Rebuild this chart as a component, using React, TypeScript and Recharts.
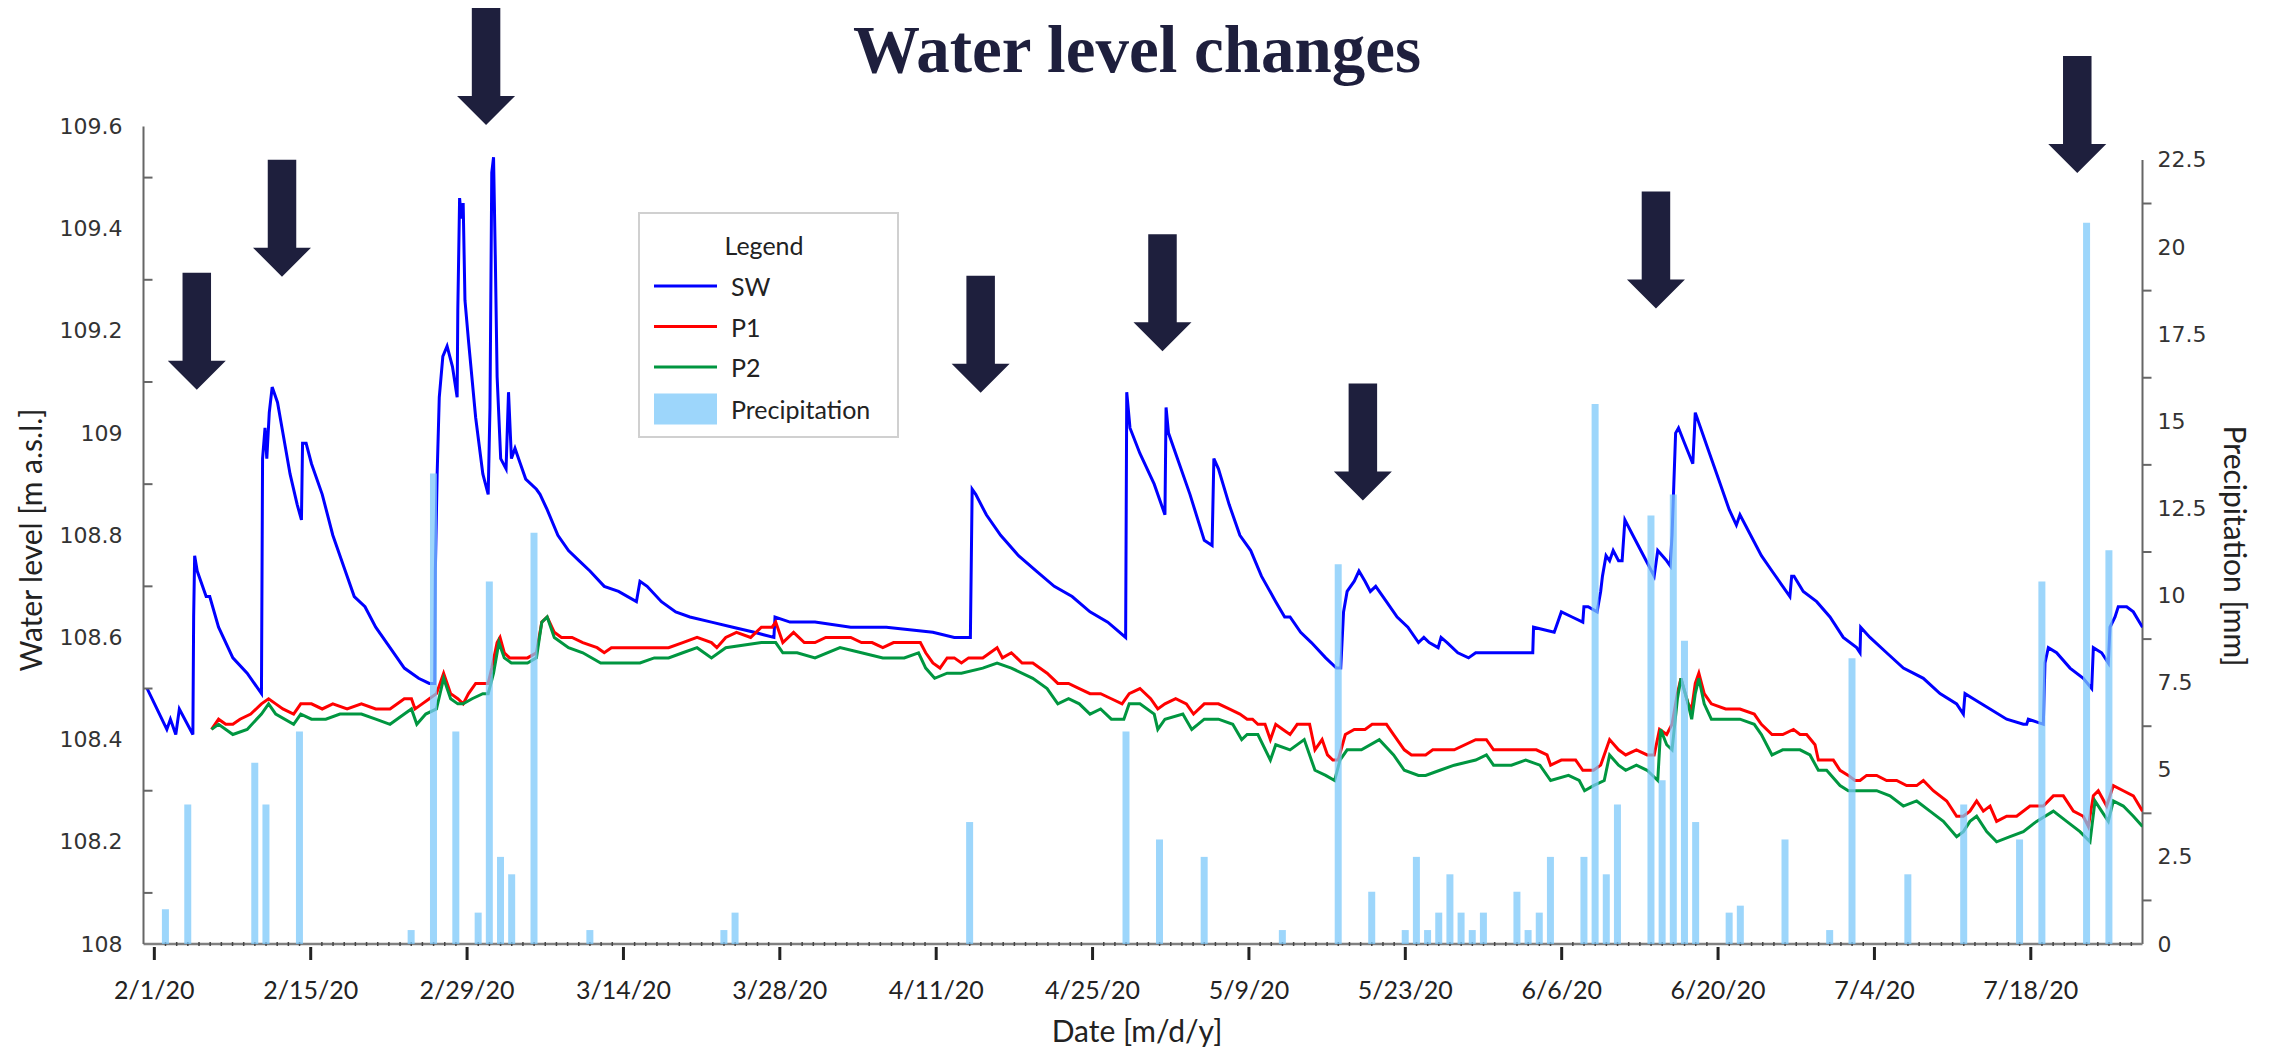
import { ComposedChart, Line, Bar, XAxis, YAxis, ReferenceLine, ReferenceDot } from "recharts"

// day 0 = 2/1/20
const SW: [number, number][] = [
  [-0.64, 108.5], [1.12, 108.42], [1.44, 108.44], [1.92, 108.41], [2.24, 108.46], [3.45, 108.41], [3.52, 108.64], [3.61, 108.76],
  [3.84, 108.73], [4.64, 108.68], [4.96, 108.68], [5.75, 108.62], [7.03, 108.56], [8.31, 108.53], [9.59, 108.49], [9.69, 108.95],
  [9.91, 109.01], [10.07, 108.95], [10.29, 109.04], [10.55, 109.09], [11.03, 109.06], [11.51, 109.0], [12.15, 108.92], [12.79, 108.86],
  [13.17, 108.83], [13.27, 108.98], [13.59, 108.98], [14.07, 108.94], [15.03, 108.88], [15.98, 108.8], [16.94, 108.74], [17.9, 108.68],
  [18.86, 108.66], [19.82, 108.62], [21.1, 108.58], [22.38, 108.54], [23.66, 108.52], [24.62, 108.51], [25.1, 108.51], [25.16, 108.73],
  [25.32, 108.92], [25.51, 109.07], [25.83, 109.15], [26.21, 109.17], [26.69, 109.13], [27.11, 109.07], [27.17, 109.24], [27.33, 109.46],
  [27.49, 109.42], [27.65, 109.45], [27.81, 109.26], [28.13, 109.18], [28.77, 109.03], [29.41, 108.92], [29.89, 108.88], [30.05, 109.05],
  [30.21, 109.51], [30.37, 109.54], [30.53, 109.34], [30.69, 109.11], [31.01, 108.95], [31.49, 108.93], [31.71, 109.08], [31.97, 108.95],
  [32.29, 108.97], [32.77, 108.94], [33.25, 108.91], [34.21, 108.89], [34.53, 108.88], [35.17, 108.85], [36.13, 108.8], [37.08, 108.77],
  [38.04, 108.75], [39.0, 108.73], [40.28, 108.7], [41.56, 108.69], [43.16, 108.67], [43.48, 108.71], [44.12, 108.7], [45.4, 108.67],
  [46.68, 108.65], [47.95, 108.64], [49.88, 108.63], [51.8, 108.62], [53.71, 108.61], [55.47, 108.6], [55.57, 108.64], [56.91, 108.63],
  [59.15, 108.63], [62.35, 108.62], [65.54, 108.62], [69.7, 108.61], [71.62, 108.6], [73.06, 108.6], [73.22, 108.89], [73.54, 108.88],
  [74.49, 108.84], [75.77, 108.8], [77.37, 108.76], [78.97, 108.73], [80.57, 108.7], [82.17, 108.68], [83.77, 108.65], [85.36, 108.63],
  [86.96, 108.6], [87.06, 109.08], [87.35, 109.01], [88.24, 108.96], [89.52, 108.9], [90.48, 108.84], [90.58, 109.05], [90.8, 109.0],
  [91.76, 108.94], [92.72, 108.88], [94.0, 108.79], [94.7, 108.78], [94.86, 108.95], [95.27, 108.93], [96.23, 108.86], [97.19, 108.8],
  [98.16, 108.77], [99.12, 108.72], [100.4, 108.67], [101.2, 108.64], [101.68, 108.64], [102.63, 108.61], [103.59, 108.59], [104.87, 108.56],
  [105.83, 108.54], [106.22, 108.54], [106.47, 108.65], [106.79, 108.69], [107.43, 108.71], [107.85, 108.73], [108.39, 108.71], [108.87, 108.69],
  [109.35, 108.7], [110.31, 108.67], [111.27, 108.64], [112.23, 108.62], [113.18, 108.59], [113.66, 108.6], [114.14, 108.59], [114.94, 108.58],
  [115.2, 108.6], [115.74, 108.59], [116.7, 108.57], [117.66, 108.56], [118.3, 108.57], [120.86, 108.57], [123.41, 108.57], [123.48, 108.62],
  [125.33, 108.61], [125.49, 108.62], [125.97, 108.65], [126.93, 108.64], [127.89, 108.63], [127.99, 108.66], [128.37, 108.66], [129.17, 108.65],
  [129.49, 108.69], [129.65, 108.72], [129.97, 108.76], [130.29, 108.75], [130.61, 108.77], [131.09, 108.75], [131.41, 108.75], [131.66, 108.83],
  [132.37, 108.8], [133.33, 108.76], [134.28, 108.72], [134.6, 108.77], [135.4, 108.75], [135.72, 108.74], [135.88, 108.8], [136.04, 108.9],
  [136.2, 109.0], [136.46, 109.01], [137.0, 108.98], [137.74, 108.94], [137.96, 109.04], [138.44, 109.01], [139.08, 108.97], [140.04, 108.91],
  [141.0, 108.85], [141.64, 108.82], [141.96, 108.84], [142.92, 108.8], [143.88, 108.76], [144.83, 108.73], [145.79, 108.7], [146.43, 108.68],
  [146.59, 108.72], [146.8, 108.72], [147.63, 108.69], [148.83, 108.67], [150.02, 108.64], [151.21, 108.6], [152.41, 108.58], [152.71, 108.57],
  [152.77, 108.62], [153.6, 108.6], [155.09, 108.57], [156.59, 108.54], [157.48, 108.53], [158.38, 108.52], [159.87, 108.49], [161.36, 108.47],
  [161.96, 108.45], [162.11, 108.49], [162.85, 108.48], [164.35, 108.46], [165.84, 108.44], [167.33, 108.43], [167.63, 108.43], [167.78, 108.44],
  [169.12, 108.43], [169.27, 108.55], [169.57, 108.58], [170.31, 108.57], [171.51, 108.54], [172.7, 108.52], [173.45, 108.5], [173.6, 108.58],
  [174.34, 108.57], [174.94, 108.55], [175.09, 108.62], [175.54, 108.64], [175.83, 108.66], [176.58, 108.66], [177.18, 108.65], [178.0, 108.62],
]

const P1: [number, number][] = [
  [5.12, 108.42], [5.75, 108.44], [6.39, 108.43], [7.03, 108.43], [7.67, 108.44], [8.63, 108.45], [9.59, 108.47], [10.23, 108.48],
  [10.87, 108.47], [11.51, 108.46], [12.47, 108.45], [13.11, 108.47], [14.07, 108.47], [15.03, 108.46], [15.98, 108.47], [17.26, 108.46],
  [18.54, 108.47], [19.82, 108.46], [21.1, 108.46], [22.38, 108.48], [23.02, 108.48], [23.34, 108.46], [23.98, 108.47], [24.62, 108.48],
  [25.26, 108.49], [25.9, 108.53], [26.53, 108.49], [27.17, 108.48], [27.65, 108.47], [28.13, 108.49], [28.77, 108.51], [29.41, 108.51],
  [29.89, 108.51], [30.21, 108.54], [30.69, 108.59], [30.95, 108.6], [31.33, 108.57], [31.81, 108.56], [32.61, 108.56], [33.41, 108.56],
  [34.21, 108.57], [34.69, 108.63], [35.17, 108.64], [35.81, 108.61], [36.45, 108.6], [37.4, 108.6], [38.36, 108.59], [39.64, 108.58],
  [40.28, 108.57], [40.92, 108.58], [42.2, 108.58], [43.48, 108.58], [44.76, 108.58], [46.04, 108.58], [47.31, 108.59], [48.59, 108.6],
  [49.88, 108.59], [50.36, 108.58], [51.16, 108.6], [52.12, 108.61], [53.39, 108.6], [54.35, 108.62], [55.31, 108.62], [55.63, 108.63],
  [56.27, 108.59], [57.23, 108.61], [58.19, 108.59], [59.15, 108.59], [60.11, 108.6], [61.39, 108.6], [62.35, 108.6], [63.31, 108.59],
  [64.26, 108.59], [65.22, 108.58], [66.18, 108.59], [67.14, 108.59], [68.58, 108.59], [69.06, 108.57], [69.7, 108.55], [70.34, 108.54],
  [70.98, 108.56], [71.62, 108.56], [72.26, 108.55], [72.9, 108.56], [74.17, 108.56], [75.45, 108.58], [75.93, 108.56], [76.73, 108.57],
  [77.69, 108.55], [78.65, 108.55], [79.93, 108.53], [80.89, 108.51], [81.85, 108.51], [82.81, 108.5], [83.77, 108.49], [84.72, 108.49],
  [85.68, 108.48], [86.64, 108.47], [87.28, 108.49], [88.24, 108.5], [89.2, 108.48], [89.84, 108.46], [90.48, 108.47], [91.44, 108.48],
  [92.4, 108.47], [93.04, 108.45], [94.0, 108.47], [95.27, 108.47], [96.23, 108.46], [97.19, 108.45], [97.84, 108.44], [98.32, 108.44],
  [98.8, 108.43], [99.44, 108.43], [99.92, 108.4], [100.4, 108.43], [101.04, 108.42], [101.68, 108.41], [102.32, 108.43], [102.95, 108.43],
  [103.43, 108.43], [103.91, 108.38], [104.55, 108.4], [105.03, 108.37], [105.51, 108.36], [105.99, 108.36], [106.63, 108.41], [107.43, 108.42],
  [108.39, 108.42], [109.03, 108.43], [109.83, 108.43], [110.31, 108.43], [110.95, 108.41], [111.91, 108.38], [112.55, 108.37], [113.82, 108.37],
  [114.46, 108.38], [116.38, 108.38], [118.3, 108.4], [119.26, 108.4], [119.9, 108.38], [121.82, 108.38], [122.78, 108.38], [123.73, 108.38],
  [124.69, 108.37], [125.01, 108.35], [125.97, 108.36], [127.25, 108.36], [127.89, 108.34], [128.85, 108.34], [129.49, 108.35], [130.29, 108.4],
  [131.09, 108.38], [131.73, 108.37], [132.69, 108.38], [133.65, 108.37], [134.28, 108.37], [134.76, 108.42], [135.4, 108.41], [135.88, 108.43],
  [136.36, 108.49], [136.68, 108.52], [137.32, 108.47], [137.64, 108.46], [137.96, 108.51], [138.28, 108.53], [138.76, 108.49], [139.4, 108.47],
  [140.68, 108.46], [141.96, 108.46], [143.24, 108.45], [143.88, 108.43], [144.83, 108.41], [145.79, 108.41], [146.75, 108.42], [147.34, 108.41],
  [147.93, 108.41], [148.68, 108.39], [148.98, 108.36], [149.72, 108.36], [150.32, 108.36], [150.92, 108.34], [151.66, 108.33], [152.26, 108.32],
  [152.71, 108.32], [153.3, 108.33], [154.2, 108.33], [155.09, 108.32], [155.99, 108.32], [156.88, 108.31], [157.78, 108.31], [158.38, 108.32],
  [159.27, 108.3], [160.47, 108.28], [161.36, 108.25], [161.96, 108.25], [162.55, 108.26], [163.15, 108.28], [163.75, 108.26], [164.35, 108.27],
  [164.94, 108.24], [165.84, 108.25], [166.73, 108.25], [167.93, 108.27], [169.12, 108.27], [170.02, 108.29], [170.91, 108.29], [171.81, 108.26],
  [172.7, 108.25], [173.15, 108.23], [173.6, 108.29], [174.04, 108.3], [174.79, 108.27], [175.39, 108.31], [176.28, 108.3], [177.18, 108.29],
  [178.0, 108.26],
]

const P2: [number, number][] = [
  [5.12, 108.42], [5.75, 108.43], [7.03, 108.41], [8.31, 108.42], [9.59, 108.45], [10.23, 108.47], [10.87, 108.45], [12.47, 108.43],
  [13.11, 108.45], [14.07, 108.44], [15.35, 108.44], [16.62, 108.45], [18.54, 108.45], [19.82, 108.44], [21.1, 108.43], [22.38, 108.45],
  [23.02, 108.46], [23.5, 108.43], [24.3, 108.45], [25.26, 108.46], [25.9, 108.52], [26.53, 108.48], [27.17, 108.47], [27.65, 108.47],
  [28.45, 108.48], [29.41, 108.49], [29.89, 108.49], [30.37, 108.53], [30.85, 108.59], [31.33, 108.56], [31.97, 108.55], [32.61, 108.55],
  [33.41, 108.55], [34.21, 108.56], [34.69, 108.63], [35.17, 108.64], [35.81, 108.6], [37.08, 108.58], [38.36, 108.57], [39.96, 108.55],
  [41.56, 108.55], [43.48, 108.55], [44.76, 108.56], [46.04, 108.56], [47.31, 108.57], [48.59, 108.58], [49.88, 108.56], [51.16, 108.58],
  [54.35, 108.59], [55.63, 108.59], [56.27, 108.57], [57.55, 108.57], [59.15, 108.56], [61.39, 108.58], [63.31, 108.57], [65.22, 108.56],
  [67.14, 108.56], [68.42, 108.57], [69.06, 108.54], [69.86, 108.52], [70.98, 108.53], [72.26, 108.53], [74.17, 108.54], [75.45, 108.55],
  [76.73, 108.54], [78.65, 108.52], [79.93, 108.5], [80.89, 108.47], [81.85, 108.48], [82.81, 108.47], [83.77, 108.45], [84.72, 108.46],
  [85.68, 108.44], [86.8, 108.44], [87.28, 108.47], [88.24, 108.47], [89.52, 108.45], [89.84, 108.42], [90.48, 108.44], [92.08, 108.45],
  [92.88, 108.42], [94.0, 108.44], [95.27, 108.44], [96.55, 108.43], [97.35, 108.4], [97.84, 108.41], [98.8, 108.41], [99.92, 108.36],
  [100.4, 108.39], [101.68, 108.38], [102.95, 108.4], [103.91, 108.34], [104.87, 108.33], [105.67, 108.32], [106.15, 108.36], [106.79, 108.38],
  [108.07, 108.38], [109.67, 108.4], [110.95, 108.37], [111.91, 108.34], [113.18, 108.33], [113.82, 108.33], [115.1, 108.34], [116.38, 108.35],
  [118.3, 108.36], [119.26, 108.37], [119.9, 108.35], [121.5, 108.35], [122.78, 108.36], [124.05, 108.35], [125.01, 108.32], [126.61, 108.33],
  [127.57, 108.32], [128.05, 108.3], [128.85, 108.31], [129.81, 108.32], [130.29, 108.37], [131.09, 108.35], [131.73, 108.34], [132.69, 108.35],
  [133.65, 108.34], [134.6, 108.32], [134.86, 108.42], [135.4, 108.39], [135.88, 108.38], [136.36, 108.48], [136.68, 108.52], [137.32, 108.47],
  [137.64, 108.44], [137.96, 108.49], [138.28, 108.52], [138.76, 108.47], [139.4, 108.44], [140.68, 108.44], [141.96, 108.44], [143.24, 108.43],
  [143.88, 108.41], [144.83, 108.37], [145.79, 108.38], [147.34, 108.38], [148.23, 108.37], [148.98, 108.34], [149.72, 108.34], [150.92, 108.31],
  [151.66, 108.3], [152.26, 108.3], [153.01, 108.3], [154.2, 108.3], [155.39, 108.29], [156.59, 108.27], [157.78, 108.28], [158.97, 108.26],
  [160.17, 108.24], [161.36, 108.21], [161.96, 108.22], [162.55, 108.24], [163.15, 108.25], [164.05, 108.22], [164.94, 108.2], [166.14, 108.21],
  [167.33, 108.22], [168.52, 108.24], [170.02, 108.26], [171.21, 108.24], [172.4, 108.22], [173.3, 108.2], [173.75, 108.28], [174.34, 108.26],
  [174.94, 108.24], [175.39, 108.28], [176.28, 108.27], [177.18, 108.25], [178.0, 108.23],
]

const precipDays = [
  1, 3, 9, 10, 13, 23, 25, 27, 29, 30, 31, 32, 34, 39, 51, 52, 73, 87, 90, 94, 101, 106, 109, 112, 113, 114, 115, 116,
  117, 118, 119, 122, 123, 124, 125, 128, 129, 130, 131, 134, 135, 136, 137, 138, 141, 142, 146, 150, 152, 157, 162,
  167, 169, 173, 175,
]
const precipMm = [
  1.0, 4.0, 5.2, 4.0, 6.1, 0.4, 13.5, 6.1, 0.9, 10.4, 2.5, 2.0, 11.8, 0.4, 0.4, 0.9, 3.5, 6.1, 3.0, 2.5, 0.4, 10.9, 1.5, 0.4,
  2.5, 0.4, 0.9, 2.0, 0.9, 0.4, 0.9, 1.5, 0.4, 0.9, 2.5, 2.5, 15.5, 2.0, 4.0, 12.3, 4.7, 12.9, 8.7, 3.5, 0.9, 1.1, 3.0, 0.4,
  8.2, 2.0, 4.0, 3.0, 10.4, 20.7, 11.3,
]

// arrow tips (day, water level)
const arrowDays = [3.8, 11.43, 29.7, 73.98, 90.26, 108.2, 134.44, 172.16]
const arrowLevels = [109.085, 109.306, 109.603, 109.079, 109.16, 108.868, 109.244, 109.509]

const tickDays = [0, 14, 28, 42, 56, 70, 84, 98, 112, 126, 140, 154, 168]
const tickLabels = ["2/1/20", "2/15/20", "2/29/20", "3/14/20", "3/28/20", "4/11/20", "4/25/20", "5/9/20", "5/23/20", "6/6/20", "6/20/20", "7/4/20", "7/18/20"]
const levelTicks = [108, 108.1, 108.2, 108.3, 108.4, 108.5, 108.6, 108.7, 108.8, 108.9, 109, 109.1, 109.2, 109.3, 109.4, 109.5, 109.6]
const precipTicks = [0, 1.25, 2.5, 3.75, 5, 6.25, 7.5, 8.75, 10, 11.25, 12.5, 13.75, 15, 16.25, 17.5, 18.75, 20, 21.25, 22.5]

const series = [
  { key: "SW", data: SW, color: "#0000ff" },
  { key: "P1", data: P1, color: "#ff0000" },
  { key: "P2", data: P2, color: "#009640" },
]

const W = 2255
const H = 1039
const X_DOMAIN: [number, number] = [-0.97, 178]
const LEVEL_DOMAIN: [number, number] = [108, 109.6]
const PRECIP_DOMAIN: [number, number] = [0, 23.46]
const NAVY = "#1e1f3d"
const SANS = "Lato, 'Noto Sans', sans-serif"
const BAR_FILL = "#7cc8fa"

const minorDays = Array.from({ length: 178 }, (_, i) => i)
const precipRows = precipDays.map((day, i) => ({ day, mm: precipMm[i] }))

function DateTick(props: any) {
  const { x, y, payload } = props
  const i = tickDays.indexOf(payload.value)
  if (i < 0) {
    return <line x1={x} x2={x} y1={y - 2} y2={y + 2} stroke="#444" strokeWidth={1.5} />
  }
  return (
    <g>
      <line x1={x} x2={x} y1={y + 3} y2={y + 16} stroke="#222" strokeWidth={3} />
      <text x={x} y={y + 45} textAnchor="middle" dominantBaseline="central" fontFamily={SANS} fontSize={25} fill="#222">
        {tickLabels[i]}
      </text>
    </g>
  )
}

function LevelTick(props: any) {
  const { x, y, payload } = props
  const v = payload.value as number
  if (Math.round(v * 10) % 2 === 1) {
    return <line x1={x} x2={x + 9} y1={y} y2={y} stroke="#666" strokeWidth={2} />
  }
  return (
    <text x={x - 21} y={y} textAnchor="end" dominantBaseline="central" fontFamily="'DejaVu Sans', sans-serif" fontSize={22} fill="#333">
      {String(Number(v.toFixed(1)))}
    </text>
  )
}

function PrecipTick(props: any) {
  const { x, y, payload } = props
  const v = payload.value as number
  if (Math.round(v / 1.25) % 2 === 1) {
    return <line x1={x} x2={x + 9} y1={y} y2={y} stroke="#666" strokeWidth={2} />
  }
  return (
    <text x={x + 15} y={y} textAnchor="start" dominantBaseline="central" fontFamily="'DejaVu Sans', sans-serif" fontSize={22} fill="#333">
      {String(v)}
    </text>
  )
}

function Arrow(props: any) {
  const { cx, cy } = props
  const sw = 14.25
  const hw = 29
  const hh = 29
  const sh = 88
  const pts = [
    [cx - sw, cy - hh - sh], [cx + sw, cy - hh - sh], [cx + sw, cy - hh], [cx + hw, cy - hh],
    [cx, cy], [cx - hw, cy - hh], [cx - sw, cy - hh],
  ].map((p) => p.join(",")).join(" ")
  return <polygon points={pts} fill={NAVY} />
}

export default function App() {
  return (
    <div style={{ position: "relative", width: W, height: H }}>
      <ComposedChart width={W} height={H} margin={{ top: 118.5, left: 35.5, right: 20.5, bottom: 43 }}>
        <XAxis
          xAxisId="x"
          type="number"
          dataKey="day"
          domain={X_DOMAIN}
          allowDataOverflow
          ticks={minorDays}
          interval={0}
          tick={<DateTick />}
          tickLine={false}
          tickSize={0}
          tickMargin={0}
          height={60}
          axisLine={{ stroke: "#808080", strokeWidth: 2.5 }}
        />
        <YAxis
          yAxisId="left"
          domain={LEVEL_DOMAIN}
          allowDataOverflow
          ticks={levelTicks}
          interval={0}
          tick={<LevelTick />}
          tickLine={false}
          tickSize={0}
          tickMargin={0}
          width={100}
          axisLine={{ stroke: "#666", strokeWidth: 2 }}
        />
        <YAxis
          yAxisId="right"
          orientation="right"
          domain={PRECIP_DOMAIN}
          allowDataOverflow
          ticks={precipTicks}
          interval={0}
          tick={<PrecipTick />}
          tickLine={false}
          tickSize={0}
          tickMargin={0}
          width={100}
          axisLine={false}
        />
        <ReferenceLine
          xAxisId="x"
          yAxisId="right"
          segment={[{ x: X_DOMAIN[1], y: 0 }, { x: X_DOMAIN[1], y: 22.5 }]}
          stroke="#666"
          strokeWidth={2}
          ifOverflow="visible"
        />
        {series.map((s) => (
          <Line
            key={s.key}
            xAxisId="x"
            yAxisId="left"
            data={s.data.map(([day, level]) => ({ day, level }))}
            dataKey="level"
            name={s.key}
            stroke={s.color}
            strokeWidth={3}
            dot={false}
            activeDot={false}
            isAnimationActive={false}
          />
        ))}
      </ComposedChart>

      <div style={{ position: "absolute", left: 0, top: 0, pointerEvents: "none" }}>
        <ComposedChart width={W} height={H} data={precipRows} margin={{ top: 118.5, left: 135.5, right: 120.5, bottom: 103 }}>
          <XAxis xAxisId="x" type="number" dataKey="day" domain={X_DOMAIN} allowDataOverflow hide />
          <YAxis yAxisId="left" domain={LEVEL_DOMAIN} allowDataOverflow hide />
          <YAxis yAxisId="right" orientation="right" domain={PRECIP_DOMAIN} allowDataOverflow hide />
          <Bar xAxisId="x" yAxisId="right" dataKey="mm" barSize={7} fill={BAR_FILL} fillOpacity={0.75} isAnimationActive={false} />
          {arrowDays.map((d, i) => (
            <ReferenceDot
              key={i}
              xAxisId="x"
              yAxisId="left"
              x={d}
              y={arrowLevels[i]}
              ifOverflow="visible"
              shape={<Arrow />}
            />
          ))}
        </ComposedChart>
      </div>

      <svg width={W} height={H} style={{ position: "absolute", left: 0, top: 0, pointerEvents: "none" }}>
        <text x={1129} y={64} textAnchor="middle" fontFamily="'Liberation Serif', serif" fontWeight="bold" fontSize={67} fill={NAVY}>
          Water level changes
        </text>
        <text transform="translate(22,532) rotate(-90)" textAnchor="middle" dominantBaseline="central" fontFamily={SANS} fontSize={30} fill="#222">
          Water level [m a.s.l.]
        </text>
        <text transform="translate(2228,538) rotate(90)" textAnchor="middle" dominantBaseline="central" fontFamily={SANS} fontSize={30} fill="#222">
          Precipitation [mm]
        </text>
        <text x={1129} y={1022} textAnchor="middle" dominantBaseline="central" fontFamily={SANS} fontSize={30} fill="#222">
          Date [m/d/y]
        </text>

        <g>
          <rect x={631} y={205} width={259} height={224} fill="#fff" stroke="#d0d0d0" strokeWidth={2} />
          <text x={756} y={237} textAnchor="middle" dominantBaseline="central" fontFamily={SANS} fontSize={25} fill="#222">
            Legend
          </text>
          {series.map((s, i) => (
            <g key={s.key}>
              <line x1={646} x2={709} y1={278 + i * 40.5} y2={278 + i * 40.5} stroke={s.color} strokeWidth={3} />
              <text x={723} y={278 + i * 40.5} dominantBaseline="central" fontFamily={SANS} fontSize={25} fill="#222">
                {s.key}
              </text>
            </g>
          ))}
          <rect x={646} y={385.5} width={63} height={31} fill={BAR_FILL} fillOpacity={0.75} />
          <text x={723} y={401} dominantBaseline="central" fontFamily={SANS} fontSize={25} fill="#222">
            Precipitation
          </text>
        </g>
      </svg>
    </div>
  )
}
